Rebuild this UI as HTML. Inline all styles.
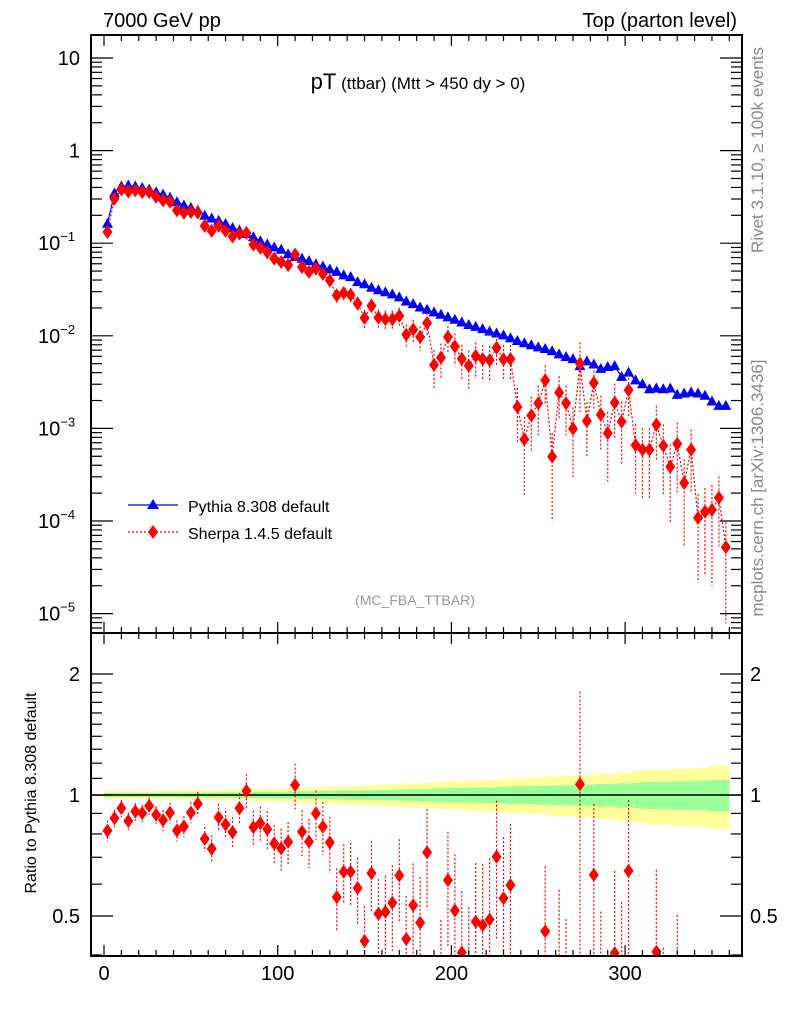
<!DOCTYPE html>
<html><head><meta charset="utf-8"><style>
html,body{margin:0;padding:0;background:#fff;width:786px;height:1024px;overflow:hidden;}
svg{display:block;font-family:"Liberation Sans",sans-serif;}
</style></head><body>
<svg id="c" width="786" height="1024" viewBox="0 0 786 1024">
<text x="103" y="27" font-size="20">7000 GeV pp</text>
<text x="737" y="27" font-size="20" text-anchor="end">Top (parton level)</text>
<text x="418" y="89" text-anchor="middle"><tspan font-size="22">pT</tspan><tspan font-size="17"> (ttbar) (Mtt &gt; 450 dy &gt; 0)</tspan></text>
<text x="415" y="605" font-size="14" fill="#999" text-anchor="middle">(MC_FBA_TTBAR)</text>
<text transform="translate(763,150) rotate(-90)" font-size="17" fill="#888" text-anchor="middle">Rivet 3.1.10, ≥ 100k events</text>
<text transform="translate(763,488) rotate(-90)" font-size="17" fill="#888" text-anchor="middle">mcplots.cern.ch [arXiv:1306.3436]</text>
<text transform="translate(36,793) rotate(-90)" font-size="16" text-anchor="middle">Ratio to Pythia 8.308 default</text>
<g id="main"></g>
<g id="ratio"></g>
<g id="axes"></g>
<g>
<g>
<line x1="128" y1="505" x2="178" y2="505" stroke="#00f" stroke-width="1.2"/>
<polygon points="153,499 159,509 147,509" fill="#00f"/>
<text x="188" y="512" font-size="16">Pythia 8.308 default</text></g>
<g>
<line x1="128" y1="532" x2="178" y2="532" stroke="#f00" stroke-width="1.2" stroke-dasharray="2,2"/>
<polygon points="153,525 158,532 153,539 148,532" fill="#f00"/>
<text x="188" y="539" font-size="16">Sherpa 1.4.5 default</text></g>
</g>
</svg>
<script>
const pythia=[0.162,0.345,0.41,0.42,0.41,0.395,0.38,0.355,0.335,0.31,0.277,0.255,0.24,0.225,0.198,0.185,0.175,0.161,0.146,0.137,0.126,0.116,0.105,0.097,0.090,0.085,0.076,0.071,0.068,0.064,0.059,0.056,0.052,0.049,0.045,0.043,0.038,0.036,0.033,0.031,0.0295,0.028,0.026,0.0235,0.022,0.0202,0.0191,0.0179,0.0169,0.0158,0.0149,0.0139,0.0131,0.0125,0.0118,0.0111,0.0106,0.0101,0.0094,0.0088,0.0083,0.0079,0.0075,0.0072,0.0068,0.0063,0.0059,0.0056,0.0047,0.0053,0.0049,0.0044,0.0046,0.0047,0.0036,0.0040,0.0033,0.0030,0.00265,0.0027,0.00265,0.0027,0.0023,0.00238,0.00244,0.00238,0.00225,0.00195,0.00175,0.00175];
const sherpa=[0.132,0.302,0.380,0.362,0.373,0.356,0.357,0.317,0.290,0.280,0.226,0.213,0.217,0.214,0.154,0.136,0.154,0.136,0.118,0.127,0.129,0.0964,0.0893,0.0797,0.0682,0.0626,0.0581,0.0752,0.0551,0.0490,0.0531,0.0467,0.0396,0.0273,0.0290,0.0277,0.0223,0.0156,0.0211,0.0157,0.0151,0.0151,0.0164,0.0103,0.0117,0.00972,0.01375,0.00486,0.00581,0.0097,0.00769,0.00564,0.00475,0.00605,0.0056,0.00544,0.00744,0.00559,0.00561,0.0017,0.00076,0.00138,0.00187,0.0033,0.000496,0.00244,0.00187,0.00099,0.0050,0.0012,0.0031,0.00141,0.00089,0.0019,0.00118,0.00259,0.00066,0.00059,0.00059,0.0011,0.00065,0.000385,0.00068,0.000257,0.00059,0.000108,0.000126,0.000132,0.000178,0.0000522];
const sherpaErr=[0.06,0.05,0.05,0.05,0.05,0.05,0.05,0.05,0.06,0.06,0.06,0.06,0.06,0.07,0.07,0.08,0.08,0.08,0.09,0.09,0.10,0.10,0.10,0.11,0.11,0.12,0.12,0.13,0.13,0.14,0.14,0.15,0.16,0.18,0.17,0.18,0.19,0.22,0.2,0.22,0.23,0.24,0.23,0.28,0.27,0.3,0.28,0.45,0.42,0.32,0.38,0.42,0.45,0.4,0.42,0.42,0.38,0.42,0.42,0.6,0.75,0.6,0.55,0.45,0.8,0.5,0.55,0.7,0.7,0.6,0.5,0.6,0.7,0.6,0.65,0.5,0.7,0.7,0.7,0.6,0.7,0.75,0.7,0.8,0.65,0.8,0.8,0.85,0.7,0.85];
const pythiaErr=[0.012,0.011,0.011,0.011,0.011,0.011,0.011,0.012,0.012,0.012,0.012,0.013,0.013,0.013,0.014,0.014,0.014,0.015,0.015,0.016,0.016,0.017,0.017,0.018,0.018,0.019,0.02,0.02,0.021,0.021,0.022,0.023,0.023,0.024,0.025,0.026,0.027,0.027,0.028,0.029,0.03,0.031,0.032,0.033,0.034,0.035,0.036,0.037,0.038,0.039,0.04,0.041,0.042,0.043,0.044,0.045,0.046,0.047,0.05,0.049,0.05,0.052,0.052,0.053,0.055,0.056,0.057,0.058,0.062,0.06,0.062,0.065,0.064,0.064,0.07,0.068,0.072,0.075,0.078,0.078,0.078,0.078,0.082,0.082,0.082,0.082,0.084,0.088,0.09,0.09];
const binCenters=pythia.map((_,i)=>2+4*i);
const xTickLabels=["0","100","200","300"];
const mainTickExps=[1,0,-1,-2,-3,-4,-5];
const ratioTickLabels=["0.5","1","2"];

const NS="http://www.w3.org/2000/svg";
const L=91,R=742,MT=35,MB=633,RB=956;
const X=v=>104+1.737*v;
const Y=v=>58+(1-Math.log10(v))*92.6;
const YR=r=>795-121*Math.log2(r);
function mk(tag,at,parent){const e=document.createElementNS(NS,tag);for(const k in at)e.setAttribute(k,at[k]);parent.appendChild(e);return e;}
const gM=document.getElementById('main'),gR=document.getElementById('ratio'),gA=document.getElementById('axes');

const defs=mk('defs',{},document.getElementById('c'));
const cp1=mk('clipPath',{id:'cm'},defs);mk('rect',{x:L,y:MT,width:R-L,height:MB-MT},cp1);
const cp2=mk('clipPath',{id:'cr'},defs);mk('rect',{x:L,y:MB,width:R-L,height:RB-MB},cp2);
gM.setAttribute('clip-path','url(#cm)');gR.setAttribute('clip-path','url(#cr)');

let yt='',yb='',gt='',gb='';
binCenters.forEach((c,i)=>{const x0=X(c-2),x1=X(c+2),e=pythiaErr[i];
 yt+=`${x0},${YR(1+2*e)} ${x1},${YR(1+2*e)} `;yb=`${x1},${YR(1-2*e)} ${x0},${YR(1-2*e)} `+yb;
 gt+=`${x0},${YR(1+e)} ${x1},${YR(1+e)} `;gb=`${x1},${YR(1-e)} ${x0},${YR(1-e)} `+gb;});
const yb1=mk('polygon',{points:yt+yb,fill:'#ffff99'},gR);


const gb1=mk('polygon',{points:gt+gb,fill:'#99ff99'},gR);


const rl=mk('line',{x1:L,x2:R,y1:YR(1),y2:YR(1),stroke:'#000','stroke-width':1.5},gR);



const pl=mk('polyline',{points:binCenters.map((c,i)=>`${X(c)},${Y(pythia[i])}`).join(' '),fill:'none',stroke:'#00f','stroke-width':1.2},gM);


binCenters.forEach((c,i)=>{const x=X(c),y=Y(pythia[i]);
 const t=mk('polygon',{points:`${x},${y-6} ${x+5.5},${y+4} ${x-5.5},${y+4}`,fill:'#00f'},gM);
 
 });

const sl=mk('polyline',{points:binCenters.map((c,i)=>`${X(c)},${Y(sherpa[i])}`).join(' '),fill:'none',stroke:'#f00','stroke-width':1.2,'stroke-dasharray':'2,2'},gM);


binCenters.forEach((c,i)=>{const x=X(c),v=sherpa[i],e=sherpaErr[i];
 const lo=v*(1-e)>0?Y(v*(1-e)):MB+5;
 const eb=mk('line',{x1:x,x2:x,y1:Y(v*(1+e)),y2:Math.min(lo,MB+5),stroke:'#f00','stroke-width':1.2,'stroke-dasharray':'2,2'},gM);
 
 
 const y=Y(v);
 const d=mk('polygon',{points:`${x},${y-7} ${x+5},${y} ${x},${y+7} ${x-5},${y}`,fill:'#f00'},gM);
 
 });

binCenters.forEach((c,i)=>{const x=X(c),r=sherpa[i]/pythia[i],e=sherpaErr[i];
 const lo=r*(1-e)>0?YR(r*(1-e)):RB+5;
 const eb=mk('line',{x1:x,x2:x,y1:YR(r*(1+e)),y2:Math.min(lo,RB+5),stroke:'#f00','stroke-width':1.2,'stroke-dasharray':'2,2'},gR);
 
 
 const y=YR(r);
 const d=mk('polygon',{points:`${x},${y-7} ${x+5},${y} ${x},${y+7} ${x-5},${y}`,fill:'#f00'},gR);
 
 });

const f1=mk('rect',{x:L,y:MT,width:R-L,height:MB-MT,fill:'none',stroke:'#000','stroke-width':2},gA);


const f2=mk('rect',{x:L,y:MB,width:R-L,height:RB-MB,fill:'none',stroke:'#000','stroke-width':2},gA);


function tk(x1,y1,x2,y2){mk('line',{x1,y1,x2,y2,stroke:'#000','stroke-width':1.2},gA);}
for(let v=0;v<=360;v+=10){const x=X(v),big=v%100===0;const l=big?11:6;
 tk(x,MT,x,MT+l);tk(x,MB,x,MB-l);tk(x,MB,x,MB+l);tk(x,RB,x,RB-l);}
xTickLabels.forEach(s=>{const t=mk('text',{x:X(+s),y:RB+24,'font-size':20,'text-anchor':'middle'},gA);t.textContent=s;
 
 });
mainTickExps.forEach(p=>{const y=Y(Math.pow(10,p));tk(L,y,L+22,y);tk(R,y,R-22,y);
 for(let m=2;m<=9;m++){const yy=Y(m*Math.pow(10,p-1));if(yy>MT&&yy<MB){tk(L,yy,L+11,yy);tk(R,yy,R-11,yy);}}
 for(let m=2;m<=9;m++){const yy=Y(m*Math.pow(10,p));if(p===1&&yy>MT){tk(L,yy,L+11,yy);tk(R,yy,R-11,yy);}}
 let t;
 if(p===1||p===0){t=mk('text',{x:80,y:y+7,'font-size':20,'text-anchor':'end'},gA);t.textContent=p===1?'10':'1';}
 else{t=mk('text',{x:38,y:y+7,'font-size':20},gA);
  const a=document.createElementNS(NS,'tspan');a.textContent='10';t.appendChild(a);
  const b=document.createElementNS(NS,'tspan');b.setAttribute('font-size','13');b.setAttribute('dy','-9');b.textContent=String(p).replace('-','−');t.appendChild(b);}
 
 });
[0.4,0.5,0.6,0.7,0.8,0.9,1,1.1,1.2,1.3,1.4,1.5,1.6,1.7,1.8,1.9,2].forEach(r=>{const y=YR(r);if(y<MB||y>RB)return;
 const big=(r===0.5||r===1||r===2);const l=big?22:11;tk(L,y,L+l,y);tk(R,y,R-l,y);});
ratioTickLabels.forEach(s=>{const y=YR(+s)+7;
 const t=mk('text',{x:80,y,'font-size':20,'text-anchor':'end'},gA);t.textContent=s;
 
 
 const t2=mk('text',{x:750,y,'font-size':20},gA);t2.textContent=s;
 
 });
</script>
</body></html>
